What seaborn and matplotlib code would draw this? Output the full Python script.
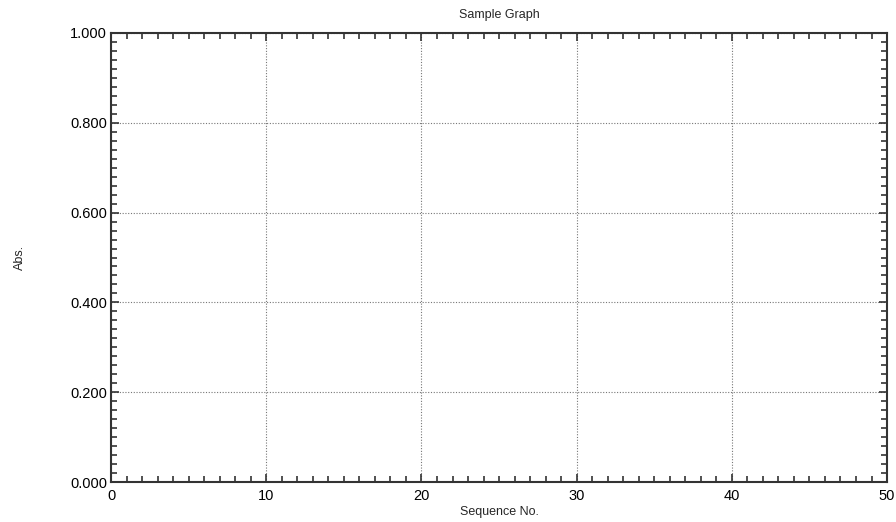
import numpy as np
import pandas as pd
import seaborn as sns
import matplotlib.pyplot as plt
from matplotlib.ticker import MultipleLocator, FormatStrFormatter

# the reference graph has no measurements plotted, only the empty frame
sequence_no = []
absorbance = []

x_ticks = [0, 10, 20, 30, 40, 50]
y_ticks = [0.0, 0.2, 0.4, 0.6, 0.8, 1.0]

sns.set_style("white")
plt.rcParams['font.family'] = ['Liberation Sans', 'DejaVu Sans']

fig = plt.figure(figsize=(8.96, 5.22), dpi=100)
ax = fig.add_axes([0.124, 0.0766, 0.866, 0.8602])

df = pd.DataFrame({'Sequence No.': sequence_no, 'Abs.': absorbance})
sns.lineplot(data=df, x='Sequence No.', y='Abs.', ax=ax, color='black')

ax.set_xlim(x_ticks[0], x_ticks[-1])
ax.set_ylim(y_ticks[0], y_ticks[-1])
ax.set_xticks(x_ticks)
ax.set_yticks(y_ticks)
ax.xaxis.set_minor_locator(MultipleLocator(1))
ax.yaxis.set_minor_locator(MultipleLocator(0.02))
ax.yaxis.set_major_formatter(FormatStrFormatter('%.3f'))

ax.tick_params(which='both', direction='in', top=True, right=True,
               bottom=True, left=True,
               colors='#333333', labelcolor='black', labelsize=10.5)
ax.tick_params(which='major', length=6, width=1.2)
ax.tick_params(which='minor', length=4, width=1.2)
ax.tick_params(axis='y', which='major', pad=3)
ax.tick_params(axis='x', which='major', pad=5)

for s in ax.spines.values():
    s.set_color('#333333')
    s.set_linewidth(1.5)

ax.grid(True, which='major', linestyle=(0, (1, 1.5)), color='#777777',
        linewidth=0.8)

ax.set_title('Sample Graph', fontsize=9, pad=11)
ax.set_xlabel('Sequence No.', fontsize=9, labelpad=2)
ax.set_ylabel('Abs.', fontsize=9)
ax.yaxis.set_label_coords(-0.11, 0.5)

plt.savefig('out.png', dpi=100)
